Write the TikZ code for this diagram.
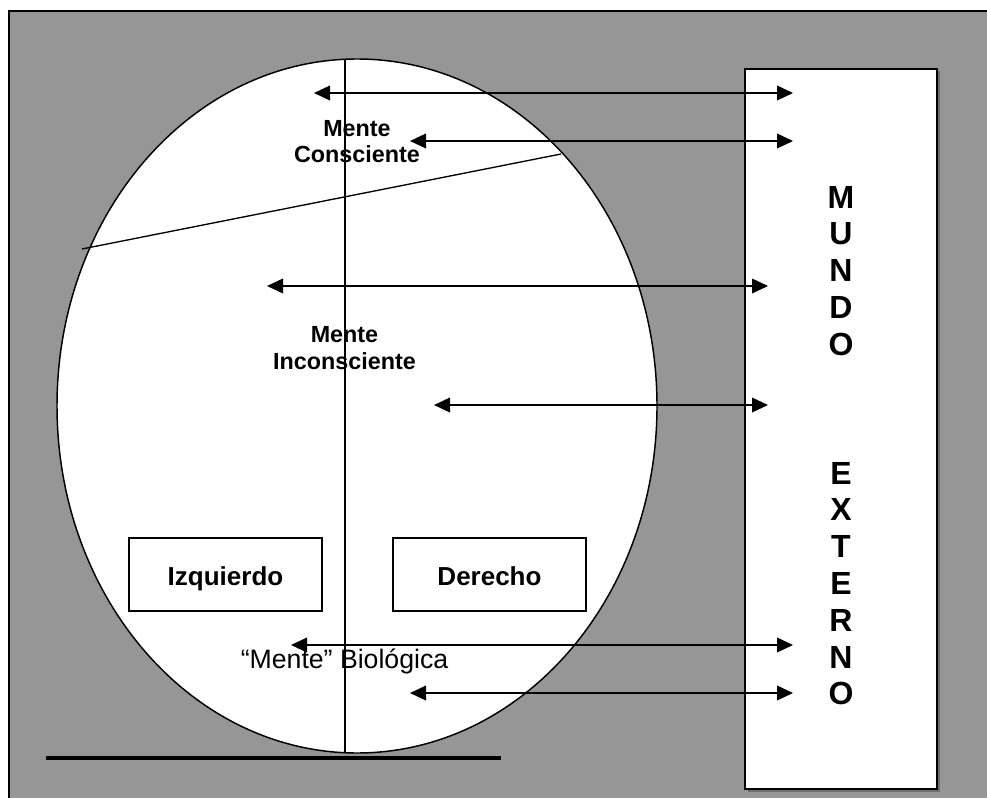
\documentclass[tikz,border=0pt]{standalone}
\usepackage{fontspec}
\setmainfont{Liberation Sans}
\usetikzlibrary{arrows.meta,shapes.geometric}
\definecolor{bggray}{RGB}{150,150,150}
\definecolor{shadowgray}{RGB}{110,110,110}
\tikzset{
  ln/.style={line width=1pt, black},
  dbl/.style={line width=1.1pt, {Triangle[length=12pt,width=11pt]}-{Triangle[length=12pt,width=11pt]}},
  hemi/.style={draw, line width=1pt, fill=white, minimum width=144.75pt, minimum height=54.75pt, inner sep=0pt, text height=19.75pt, text depth=4pt, font=\bfseries\fontsize{19.5pt}{22pt}\selectfont},
  lbl/.style={inner sep=0pt, align=center, font=\bfseries\fontsize{17.5pt}{20pt}\selectfont},
  letter/.style={inner sep=0pt, anchor=base, font=\bfseries\fontsize{24pt}{27pt}\selectfont}
}
\begin{document}
\begin{tikzpicture}[x=0.75pt, y=-0.75pt]
\useasboundingbox (0,0) rectangle (987,798);
% background frame
\fill[bggray] (9,11) rectangle (990,800);
\draw[line width=1.3pt] (9,800) -- (9,11) -- (990,11);
% external world box with shadow
\fill[shadowgray] (747.5,71.5) rectangle (939.5,791.5);
\node[draw, line width=1pt, fill=white, minimum width=144pt, minimum height=540pt, inner sep=0pt] (mundo) at (841,429) {};
% ellipse
\node[ellipse, draw, line width=1.1pt, fill=white, minimum width=450pt, minimum height=520.5pt, inner sep=0pt] (brain) at (357,406) {};
% vertical line
\coordinate (vtop) at (345,59);
\coordinate (vbot) at (345,753);
\draw[ln] (vtop) -- (vbot);
% slanted line
\coordinate (sl1) at (82,249);
\coordinate (sl2) at (561,154);
\draw[ln] (sl1) -- (sl2);
% bottom thick line
\coordinate (b1) at (46,758);
\coordinate (b2) at (501,758);
\draw[line width=2.6pt] (b1) -- (b2);
% hemisphere boxes
\node[hemi] (izq) at (225.5,574.5) {Izquierdo};
\node[hemi] (der) at (489.5,574.5) {Derecho};
% labels
\node[lbl, anchor=base] (mc1) at (357,137) {Mente};
\node[lbl, anchor=base] (mc2) at (357,163) {Consciente};
\node[lbl, anchor=base] (mi1) at (344.5,342) {Mente};
\node[lbl, anchor=base] (mi2) at (344.5,369) {Inconsciente};
\node[inner sep=0pt, anchor=base, font=\fontsize{20pt}{23pt}\selectfont] (bio) at (344.5,668) {“Mente” Biológica};
% arrows
\coordinate (a1l) at (314,93);  \coordinate (a1r) at (793,93);
\coordinate (a2l) at (410,141); \coordinate (a2r) at (793,141);
\coordinate (a3l) at (267,286); \coordinate (a3r) at (768,286);
\coordinate (a4l) at (434,405); \coordinate (a4r) at (768,405);
\coordinate (a5l) at (291,645); \coordinate (a5r) at (793,645);
\coordinate (a6l) at (410,693); \coordinate (a6r) at (793,693);
\foreach \i in {1,...,6} \draw[dbl] (a\i l) -- (a\i r);
% MUNDO EXTERNO
\foreach \l [count=\i] in {M,U,N,D,O}
  \node[letter] (mu\i) at (841,{208.3+(\i-1)*36.7}) {\l};
\foreach \l [count=\i] in {E,X,T,E,R,N,O}
  \node[letter] (ex\i) at (841,{484+(\i-1)*36.8}) {\l};
\end{tikzpicture}
\end{document}
